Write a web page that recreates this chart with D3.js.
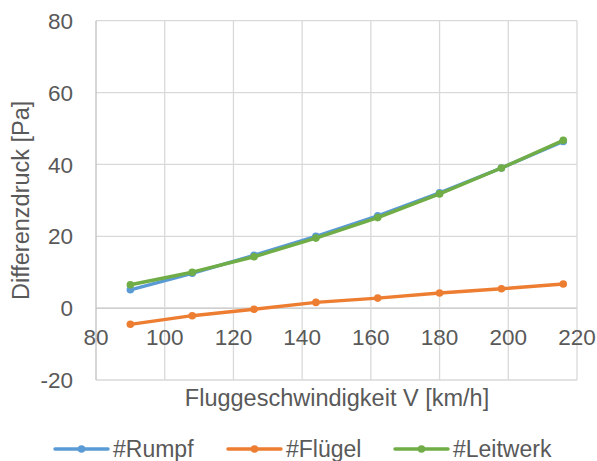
<!DOCTYPE html>
<html>
<head>
<meta charset="utf-8">
<script src="https://cdn.jsdelivr.net/npm/d3@7"></script>
<style>
  body { margin: 0; background: #fff; }
  svg text { font-family: "Liberation Sans", Arial, sans-serif; fill: #595959; }
</style>
</head>
<body>
<svg id="chart" width="597" height="461"></svg>
<script>
// Flight speed [km/h]
const speeds = [90, 108, 126, 144, 162, 180, 198, 216];
// Pressure difference [Pa] per measuring point
const rumpf    = [5.1, 9.7, 14.7, 20.0, 25.7, 32.1, 39.0, 46.4];
const fluegel  = [-4.5, -2.1, -0.3, 1.6, 2.8, 4.2, 5.4, 6.7];
const leitwerk = [6.5, 10.0, 14.3, 19.5, 25.2, 31.8, 39.0, 46.7];

const seriesNames  = ["#Rumpf", "#Flügel", "#Leitwerk"];
const seriesColors = ["#5B9BD5", "#ED7D31", "#70AD47"];
const xTicks = [80, 100, 120, 140, 160, 180, 200, 220];
const yTicks = [-20, 0, 20, 40, 60, 80];

const series = [rumpf, fluegel, leitwerk].map((vals, i) => ({
  name: seriesNames[i],
  color: seriesColors[i],
  points: vals.map((v, j) => ({ x: speeds[j], y: v }))
}));

const svg = d3.select("#chart");
const plot = { left: 96, right: 577, top: 20.7, bottom: 380 };
const tickFont = 22.5, titleFont = 23.5, legendFont = 23;

const x = d3.scaleLinear().domain([80, 220]).range([plot.left, plot.right]);
const y = d3.scaleLinear().domain([-20, 80]).range([plot.bottom, plot.top]);

const grid = svg.append("g");
// horizontal gridlines
grid.selectAll("line.h").data(yTicks).join("line")
  .attr("x1", plot.left).attr("x2", plot.right)
  .attr("y1", d => y(d)).attr("y2", d => y(d))
  .attr("stroke", d => d === 0 ? "#BFBFBF" : "#D9D9D9").attr("stroke-width", 1.3);
// vertical gridlines
grid.selectAll("line.v").data(xTicks).join("line")
  .attr("x1", d => x(d)).attr("x2", d => x(d))
  .attr("y1", plot.top).attr("y2", plot.bottom)
  .attr("stroke", d => d === 80 ? "#BFBFBF" : "#D9D9D9").attr("stroke-width", 1.3);

// y tick labels
svg.append("g").selectAll("text").data(yTicks).join("text")
  .attr("x", 73).attr("y", d => y(d))
  .attr("dy", "0.36em")
  .attr("text-anchor", "end")
  .attr("font-size", tickFont)
  .text(d => d);

// x tick labels sit below the zero line
svg.append("g").selectAll("text").data(xTicks).join("text")
  .attr("x", d => x(d)).attr("y", y(0) + 37)
  .attr("text-anchor", "middle")
  .attr("font-size", tickFont)
  .text(d => d);

// axis titles
svg.append("text")
  .attr("x", (plot.left + plot.right) / 2 + 0.5).attr("y", 406)
  .attr("text-anchor", "middle").attr("font-size", titleFont)
  .text("Fluggeschwindigkeit V [km/h]");
svg.append("text")
  .attr("transform", `translate(29,${(plot.top + plot.bottom) / 2}) rotate(-90)`)
  .attr("text-anchor", "middle").attr("font-size", titleFont)
  .text("Differenzdruck [Pa]");

// series lines and markers
const line = d3.line().x(d => x(d.x)).y(d => y(d.y));
const sg = svg.append("g").selectAll("g").data(series).join("g");
sg.append("path")
  .attr("d", d => line(d.points))
  .attr("fill", "none")
  .attr("stroke", d => d.color)
  .attr("stroke-width", 3.4)
  .attr("stroke-linejoin", "round")
  .attr("stroke-linecap", "round");
sg.selectAll("circle").data(d => d.points.map(p => ({ ...p, color: d.color }))).join("circle")
  .attr("cx", d => x(d.x)).attr("cy", d => y(d.y))
  .attr("r", 3.8)
  .attr("fill", d => d.color);

// legend
const legendX = [55, 228, 395];
const legendY = 449;
const lg = svg.append("g").selectAll("g").data(series).join("g")
  .attr("transform", (d, i) => `translate(${legendX[i]},${legendY})`);
lg.append("line")
  .attr("x1", 0).attr("x2", 53).attr("y1", 0).attr("y2", 0)
  .attr("stroke", d => d.color).attr("stroke-width", 3.4)
  .attr("stroke-linecap", "round");
lg.append("circle").attr("cx", 26.5).attr("cy", 0).attr("r", 3.8)
  .attr("fill", d => d.color);
lg.append("text")
  .attr("x", 58).attr("y", 0).attr("dy", "0.36em")
  .attr("font-size", legendFont)
  .text(d => d.name);
</script>
</body>
</html>
